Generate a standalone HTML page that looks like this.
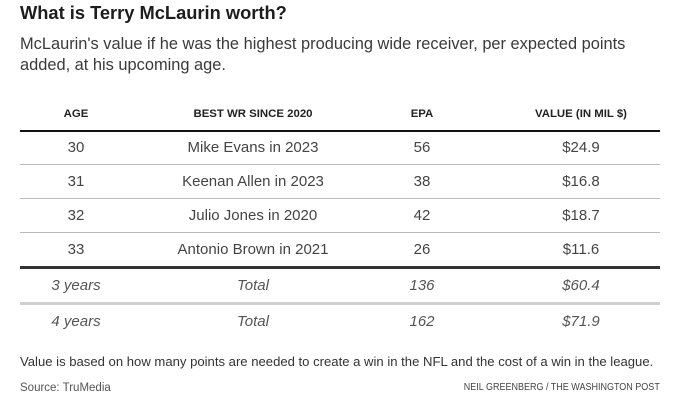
<!DOCTYPE html>
<html><head><meta charset="utf-8"><style>
html,body{margin:0;padding:0;background:#fff;}
body{width:684px;height:410px;position:relative;overflow:hidden;font-family:"Liberation Sans",Arial,sans-serif;}
.a{position:absolute;white-space:nowrap;}
.c{position:absolute;width:200px;margin-left:-100px;text-align:center;white-space:nowrap;}
.t{left:20px;top:2px;font-size:18.3px;font-weight:bold;color:#1d1d1d;line-height:22px;}
.s{left:20px;top:34px;font-size:16.4px;color:#3a3a3a;line-height:21px;}
.h{font-size:11.4px;font-weight:bold;color:#222;line-height:14px;}
.r{font-size:15px;color:#444;line-height:20px;}
.i{font-size:15px;color:#555;font-style:italic;line-height:20px;}
.ln{position:absolute;left:20px;width:640px;}
</style></head><body>
<div class="a t">What is Terry McLaurin worth?</div>
<div class="a s">McLaurin's value if he was the highest producing wide receiver, per expected points<br>added, at his upcoming age.</div>

<div class="c h" style="left:76px;top:107px">AGE</div>
<div class="c h" style="left:253px;top:107px">BEST WR SINCE 2020</div>
<div class="c h" style="left:422px;top:107px">EPA</div>
<div class="c h" style="left:581px;top:107px">VALUE (IN MIL $)</div>

<div class="ln" style="top:130px;height:1.5px;background:#111"></div>

<div class="c r" style="left:76px;top:138px">30</div>
<div class="c r" style="left:253px;top:138px">Mike Evans in 2023</div>
<div class="c r" style="left:422px;top:138px">56</div>
<div class="c r" style="left:581px;top:138px">$24.9</div>
<div class="ln" style="top:164px;height:1px;background:#bbb"></div>

<div class="c r" style="left:76px;top:172px">31</div>
<div class="c r" style="left:253px;top:172px">Keenan Allen in 2023</div>
<div class="c r" style="left:422px;top:172px">38</div>
<div class="c r" style="left:581px;top:172px">$16.8</div>
<div class="ln" style="top:198px;height:1px;background:#bbb"></div>

<div class="c r" style="left:76px;top:206px">32</div>
<div class="c r" style="left:253px;top:206px">Julio Jones in 2020</div>
<div class="c r" style="left:422px;top:206px">42</div>
<div class="c r" style="left:581px;top:206px">$18.7</div>
<div class="ln" style="top:232px;height:1px;background:#bbb"></div>

<div class="c r" style="left:76px;top:240px">33</div>
<div class="c r" style="left:253px;top:240px">Antonio Brown in 2021</div>
<div class="c r" style="left:422px;top:240px">26</div>
<div class="c r" style="left:581px;top:240px">$11.6</div>
<div class="ln" style="top:266px;height:3px;background:#333"></div>

<div class="c i" style="left:76px;top:276px">3 years</div>
<div class="c i" style="left:253px;top:276px">Total</div>
<div class="c i" style="left:422px;top:276px">136</div>
<div class="c i" style="left:581px;top:276px">$60.4</div>
<div class="ln" style="top:302px;height:3px;background:#d0d0d0"></div>

<div class="c i" style="left:76px;top:312px">4 years</div>
<div class="c i" style="left:253px;top:312px">Total</div>
<div class="c i" style="left:422px;top:312px">162</div>
<div class="c i" style="left:581px;top:312px">$71.9</div>

<div class="a" style="left:20px;top:354px;font-size:13.1px;color:#333;line-height:16px;">Value is based on how many points are needed to create a win in the NFL and the cost of a win in the league.</div>
<div class="a" style="left:20px;top:381px;font-size:11.5px;color:#555;line-height:14px;">Source: TruMedia</div>
<div class="a" style="right:24px;top:381px;font-size:10px;color:#444;line-height:14px;transform:scaleX(0.9);transform-origin:right center;">NEIL GREENBERG / THE WASHINGTON POST</div>
</body></html>
